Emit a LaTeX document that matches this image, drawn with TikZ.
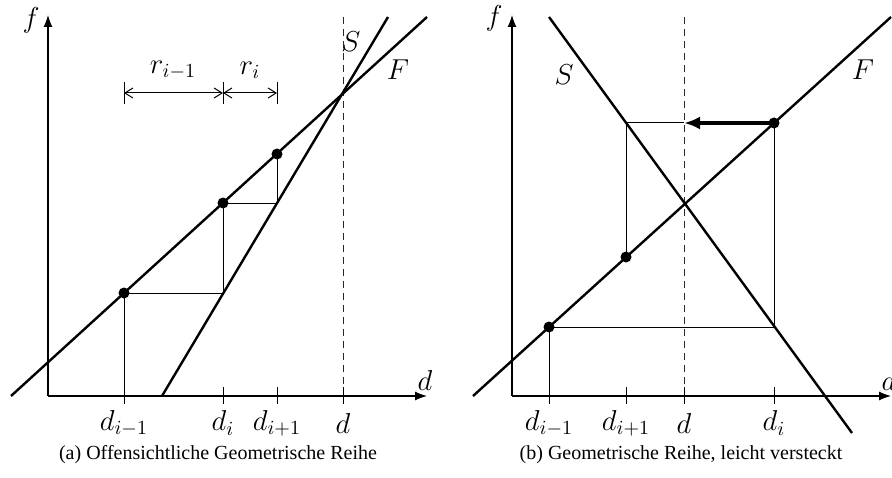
\documentclass[tikz,border=0pt]{standalone}
\usepackage{fontspec}
\setmainfont{Liberation Serif}
\usepackage{amsmath}
\usepackage{tikz}
\usetikzlibrary{arrows.meta, positioning}
\tikzstyle{axis}=[-{Latex[length=6pt,width=4.5pt]},line width=0.6pt]
\tikzstyle{curve}=[line width=1.2pt]
\tikzstyle{helper}=[line width=0.5pt]
\tikzstyle{vline}=[dash pattern=on 3.5pt off 2.5pt,line width=0.5pt,black!85]
\tikzstyle{dot}=[circle,fill=black,inner sep=0pt,minimum size=5.5pt]
\tikzstyle{dimarr}=[{Straight Barb[length=4pt,width=5pt]}-{Straight Barb[length=4pt,width=5pt]},line width=0.5pt]
\tikzstyle{bigarr}=[-{Latex[length=8pt,width=6.5pt]},line width=2.2pt]
\tikzstyle{lbl}=[font=\Large,inner sep=1pt]

\begin{document}
\begin{tikzpicture}[x=0.5pt,y=0.5pt]
  \useasboundingbox (0,0) rectangle (892,477);

  % (a) offensichtliche Reihe
  \begin{scope}[shift={(48,81)}]
    \draw[axis] (0,0) -- (0,381);
    \draw[axis] (0,0) -- (379,0);
    \node[lbl] (fa) at (-17,376) {$f$};
    \node[lbl] (da) at (377,16) {$d$};

    \coordinate (pa1) at (76,103);
    \coordinate (pa2) at (175,193);
    \coordinate (pa3) at (229,242);
    \coordinate (qa1) at (175,103);
    \coordinate (qa2) at (229,193);

    \draw[vline] (295,0) -- (295,381);
    \draw[curve] (-37,0) -- (379,379);
    \draw[curve] (114,0) -- (340,379);

    \foreach \x in {175,229,295}
      \draw[helper] (\x,-8) -- (\x,9);
    \draw[helper] (76,-8) -- (pa1);
    \draw[helper] (pa1) -- (qa1) -- (pa2) -- (qa2) -- (pa3);

    \foreach \p in {pa1,pa2,pa3}
      \node[dot] at (\p) {};

    % Abstaende
    \foreach \x in {76,175,229}
      \draw[helper] (\x,292) -- (\x,314);
    \draw[dimarr] (76,303) -- (175,303);
    \draw[dimarr] (175,303) -- (229,303);
    \node[lbl] (ra) at (125,326) {$r_{i-1}$};
    \node[lbl] (rb) at (202,326) {$r_i$};

    \node[lbl] (sa) at (303,354) {$S$};
    \node[lbl] (fa2) at (350,326) {$F$};

    \node[lbl] (ta1) at (76,-27) {$d_{i-1}$};
    \node[lbl] (ta2) at (175,-27) {$d_i$};
    \node[lbl] (ta3) at (229,-27) {$d_{i+1}$};
    \node[lbl] (ta4) at (295,-27) {$d$};

    \node (capa) at (170,-59) {(a) Offensichtliche Geometrische Reihe};
  \end{scope}

  % (b) versteckte Reihe
  \begin{scope}[shift={(512,81)}]
    \draw[axis] (0,0) -- (0,381);
    \draw[axis] (0,0) -- (379,0);
    \node[lbl] (fb) at (-18,378) {$f$};
    \node[lbl] (db) at (377,16) {$d$};

    \coordinate (pb1) at (37,69);
    \coordinate (pb2) at (114,139);
    \coordinate (pb3) at (262,273);
    \coordinate (qb1) at (262,69);
    \coordinate (qb2) at (114,273);
    \coordinate (mb) at (172,273);

    \draw[vline] (172,0) -- (172,381);
    \draw[curve] (-39,0) -- (379,379);
    \draw[curve] (37,379) -- (340,-37);

    \foreach \x in {114,172,262}
      \draw[helper] (\x,-8) -- (\x,9);
    \draw[helper] (37,-8) -- (pb1);
    \draw[helper] (pb1) -- (qb1) -- (pb3);
    \draw[helper] (mb) -- (qb2) -- (pb2);
    \draw[bigarr] (pb3) -- (mb);

    \foreach \p in {pb1,pb2,pb3}
      \node[dot] at (\p) {};

    \node[lbl] (sb) at (52,321) {$S$};
    \node[lbl] (fb2) at (351,326) {$F$};

    \node[lbl] (tb1) at (37,-27) {$d_{i-1}$};
    \node[lbl] (tb2) at (114,-27) {$d_{i+1}$};
    \node[lbl] (tb3) at (172,-27) {$d$};
    \node[lbl] (tb4) at (262,-27) {$d_i$};

    \node (capb) at (169,-59) {(b) Geometrische Reihe, leicht versteckt};
  \end{scope}
\end{tikzpicture}
\end{document}
